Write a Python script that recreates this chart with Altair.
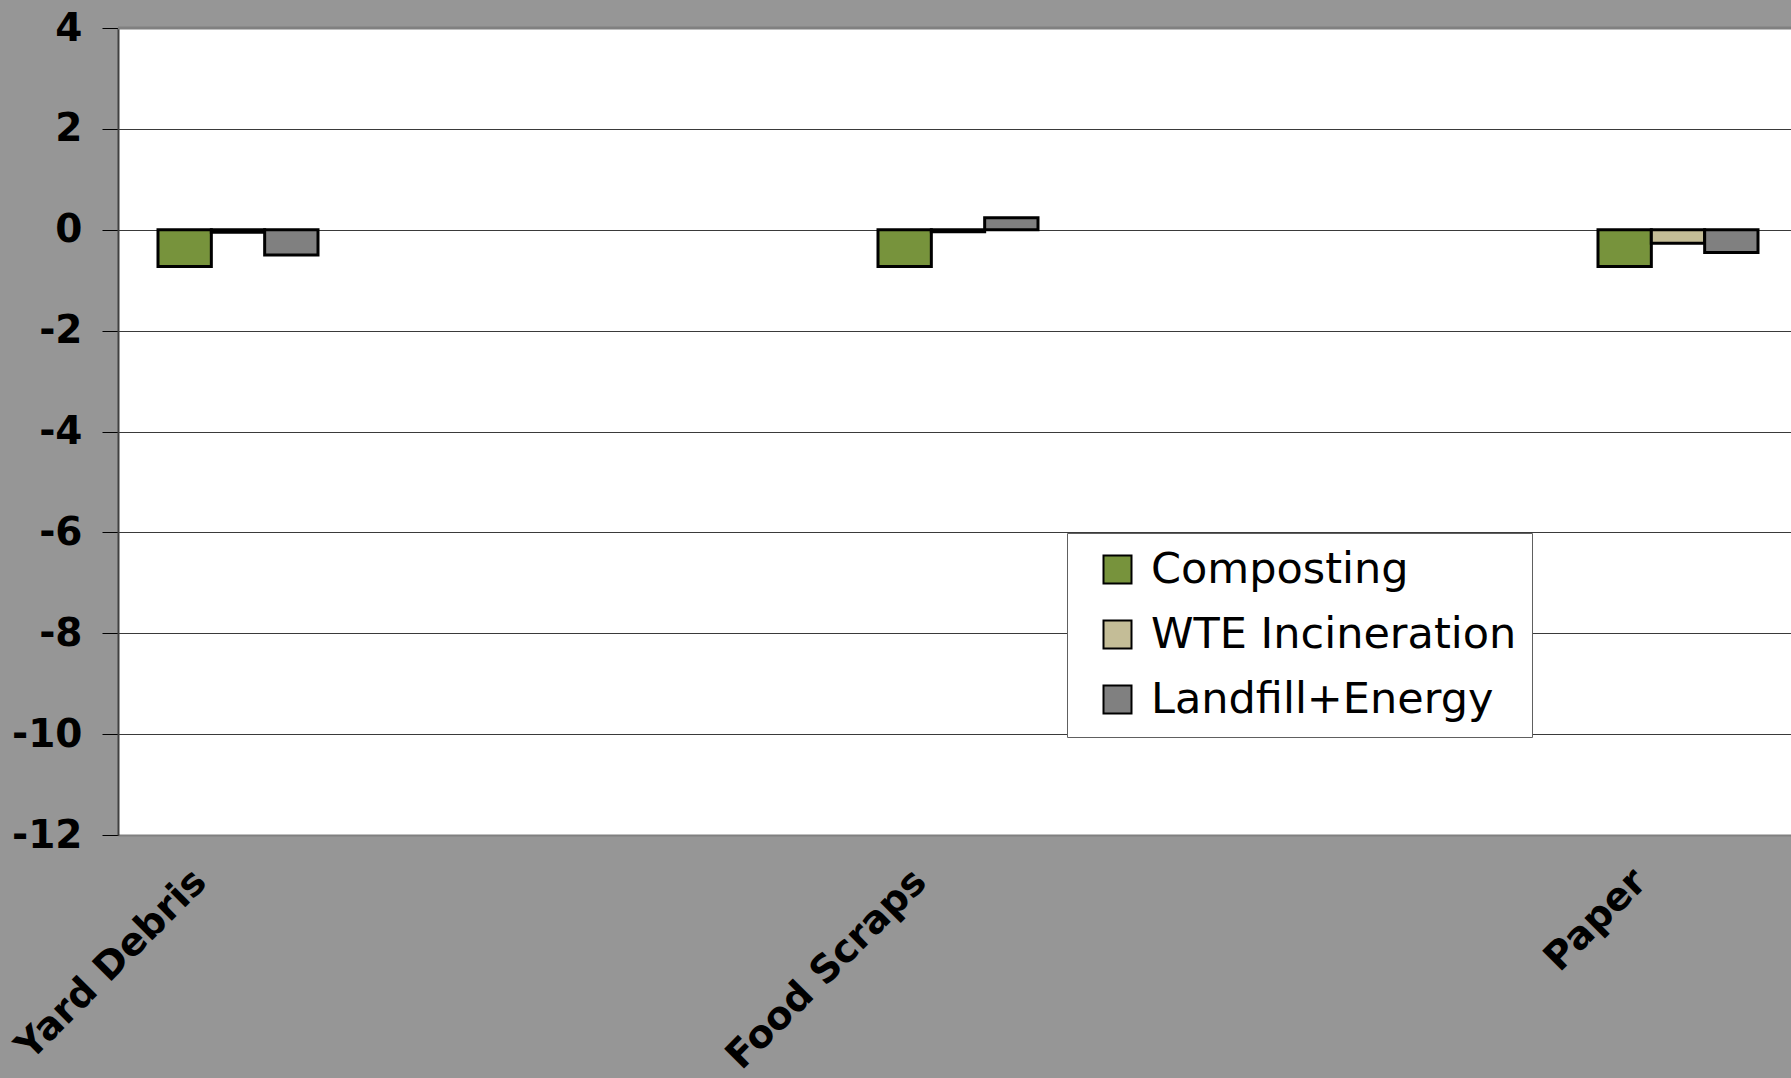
import altair as alt
import pandas as pd

# Emissions change per material, by management method
categories = ["Yard Debris", "Food Scraps", "Paper"]
series = ["Composting", "WTE Incineration", "Landfill+Energy"]
composting = [-0.73, -0.73, -0.73]
wte_incineration = [-0.05, -0.04, -0.27]
landfill_energy = [-0.50, 0.24, -0.45]
colors = ["#77933C", "#C4BD97", "#808080"]
y_ticks = [4, 2, 0, -2, -4, -6, -8, -10, -12]

# x slots: two unlabelled slots between each material group
slots = []
for i, c in enumerate(categories):
    slots.append(c)
    if i < len(categories) - 1:
        for _ in range(2):
            slots.append(" " * len(slots))

rows = []
for s, vals in zip(series, [composting, wte_incineration, landfill_energy]):
    for c, v in zip(categories, vals):
        rows.append({"category": c, "series": s, "value": v})
df = pd.DataFrame(rows)

FONT = "DejaVu Sans"

bars = alt.Chart(df).mark_bar(stroke="black", strokeWidth=3).encode(
    x=alt.X(
        "category:N",
        title=None,
        sort=slots,
        scale=alt.Scale(domain=slots, range=[0, 1680], paddingInner=0, paddingOuter=0),
        axis=alt.Axis(
            ticks=False,
            grid=False,
            domainColor="#808080",
            domainWidth=2,
            labelAngle=315,
            labelAlign="right",
            labelBaseline="middle",
            labelFont=FONT,
            labelFontWeight="bold",
            labelFontSize=38.5,
            labelColor="black",
            labelOffset=-38,
            labelPadding=40,
            labelOverlap=False,
            labelLimit=1000,
        ),
    ),
    xOffset=alt.XOffset(
        "series:N",
        sort=series,
        scale=alt.Scale(domain=series, paddingInner=0, paddingOuter=0.75),
    ),
    y=alt.Y(
        "value:Q",
        title=None,
        scale=alt.Scale(domain=[-12, 4], nice=False),
        axis=alt.Axis(
            values=y_ticks,
            labelExpr="'' + datum.value",
            domainColor="#404040",
            domainWidth=2,
            tickColor="black",
            tickSize=16,
            tickWidth=1,
            gridColor="#3a3a3a",
            gridWidth=1,
            labelFont=FONT,
            labelFontWeight="bold",
            labelFontSize=39,
            labelColor="black",
            labelPadding=20,
            labelBaseline="middle",
        ),
    ),
    color=alt.Color(
        "series:N",
        sort=series,
        scale=alt.Scale(domain=series, range=colors),
        legend=alt.Legend(
            title=None,
            orient="none",
            legendX=949,
            legendY=505,
            fillColor="white",
            strokeColor="#606060",
            padding=15,
            symbolType="square",
            symbolSize=784,
            symbolStrokeColor="black",
            symbolStrokeWidth=2,
            symbolOpacity=1,
            symbolOffset=14,
            labelFont=FONT,
            labelFontSize=43,
            labelColor="black",
            labelOffset=12,
            rowPadding=21,
            labelLimit=600,
        ),
    ),
)

# plot-area top border
top_border = alt.Chart(pd.DataFrame({"v": [y_ticks[0]]})).mark_rule(
    color="#808080", strokeWidth=3
).encode(y=alt.Y("v:Q"))

chart = (
    alt.layer(bars, top_border)
    .properties(
        width=1673,
        height=807,
        autosize=alt.AutoSizeParams(type="none"),
        padding={"left": 118, "top": 28, "right": 0, "bottom": 243},
        background="#969696",
    )
    .configure_view(fill="white", stroke="transparent")
)

chart.save("out.html", embed_options={"renderer": "svg", "actions": False})
